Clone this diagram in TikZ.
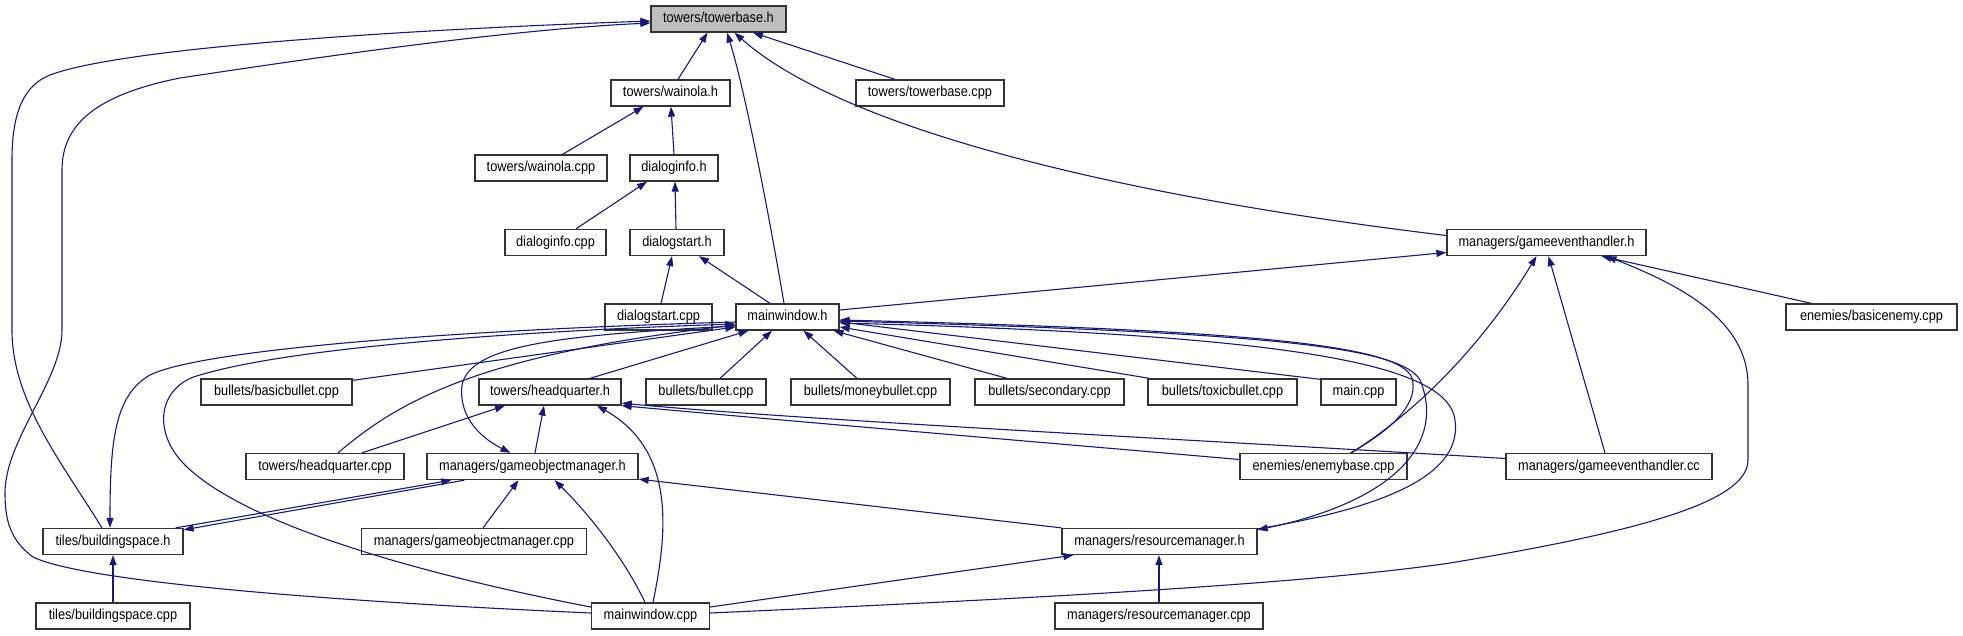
\documentclass[tikz,border=0pt]{standalone}
\usepackage{fontspec}
\setmainfont{Liberation Sans}[FakeStretch=0.88]
\usetikzlibrary{arrows.meta}
\definecolor{edgeblue}{HTML}{191970}
\definecolor{rootgray}{HTML}{BFBFBF}

\begin{document}
\begin{tikzpicture}[x=1pt, y=-1pt]
        \tikzset{
            file/.style={draw=black!80, line width=1.3pt, fill=white, rectangle, minimum height=26pt, inner sep=0pt, text height=10.5pt, text depth=3pt, font=\fontsize{14.5}{17}\selectfont},
            root/.style={file, fill=rootgray},
            inc/.style={draw=edgeblue, line width=1.1pt, -{Triangle[length=10pt, width=7pt]}}
        }
        \useasboundingbox (0,0) rectangle (1963,635);

        % Root
        \node [root, minimum width=135pt] (towerbase) at (718.5, 19) {towers/towerbase.h};

        % Towers and dialogs
        \node [file, minimum width=119pt] (wainola) at (670.5, 93) {towers/wainola.h};
        \node [file, minimum width=148pt] (towerbasecpp) at (930, 93) {towers/towerbase.cpp};
        \node [file, minimum width=132pt] (wainolacpp) at (541, 168) {towers/wainola.cpp};
        \node [file, minimum width=88pt] (dlginfo) at (674, 168) {dialoginfo.h};
        \node [file, minimum width=101pt] (dlginfocpp) at (555.5, 242.5) {dialoginfo.cpp};
        \node [file, minimum width=94pt] (dlgstart) at (677, 242.5) {dialogstart.h};
        \node [file, minimum width=199pt] (geh) at (1546.5, 242.5) {managers/gameeventhandler.h};
        \node [file, minimum width=107pt] (dlgstartcpp) at (658.5, 317) {dialogstart.cpp};
        \node [file, minimum width=103pt] (mainwin) at (787.5, 317) {mainwindow.h};
        \node [file, minimum width=171pt] (basicenemy) at (1871.5, 317) {enemies/basicenemy.cpp};

        % Bullets row
        \node [file, minimum width=151pt] (basicbullet) at (276.5, 392) {bullets/basicbullet.cpp};
        \node [file, minimum width=142pt] (hq) at (550, 392) {towers/headquarter.h};
        \node [file, minimum width=120pt] (bullet) at (706, 392) {bullets/bullet.cpp};
        \node [file, minimum width=159pt] (moneybullet) at (870.5, 392) {bullets/moneybullet.cpp};
        \node [file, minimum width=149pt] (secondary) at (1049.5, 392) {bullets/secondary.cpp};
        \node [file, minimum width=149pt] (toxic) at (1222.5, 392) {bullets/toxicbullet.cpp};
        \node [file, minimum width=75pt] (maincpp) at (1358.5, 392) {main.cpp};

        % Managers
        \node [file, minimum width=158pt] (hqcpp) at (325, 466.5) {towers/headquarter.cpp};
        \node [file, minimum width=211pt] (gom) at (532.5, 466.5) {managers/gameobjectmanager.h};
        \node [file, minimum width=167pt] (enemybase) at (1323.5, 466.5) {enemies/enemybase.cpp};
        \node [file, minimum width=206pt] (gehcc) at (1609, 466.5) {managers/gameeventhandler.cc};
        \node [file, minimum width=140pt] (bspace) at (113, 541.5) {tiles/buildingspace.h};
        \node [file, minimum width=225pt] (gomcpp) at (474, 541.5) {managers/gameobjectmanager.cpp};
        \node [file, minimum width=195pt] (resmgr) at (1159.5, 541.5) {managers/resourcemanager.h};
        \node [file, minimum width=154pt] (bspacecpp) at (113, 616) {tiles/buildingspace.cpp};
        \node [file, minimum width=118pt] (mainwincpp) at (650.5, 616) {mainwindow.cpp};
        \node [file, minimum width=208pt] (resmgrcpp) at (1159, 616) {managers/resourcemanager.cpp};

        % Into towerbase.h
        \draw [inc] ([xshift=7.5pt]wainola.north) -- ([xshift=-11pt]towerbase.south);
        \draw [inc] ([xshift=-35pt]towerbasecpp.north) -- ([xshift=34.5pt]towerbase.south);
        \draw [inc] ([xshift=-3.5pt]mainwin.north) .. controls (770,220) and (745,90) .. ([xshift=8.5pt]towerbase.south);
        \draw [inc] ([yshift=7pt]geh.west) .. controls (1150,200) and (850,135) .. ([xshift=16pt]towerbase.south);
        \draw [inc] ([xshift=-11pt]bspace.north) .. controls (60,460) and (12,400) .. (12,330) -- (12,160)
            .. controls (12,110) and (25,85) .. (50,75) .. controls (130,45) and (450,28) .. ([yshift=-2pt]towerbase.west);
        \draw [inc] ([yshift=3pt]mainwincpp.west) .. controls (300,600) and (80,580) .. (33,557)
            .. controls (10,540) and (5,520) .. (5,493) .. controls (5,440) and (62,380) .. (62,330) -- (62,170)
            .. controls (62,125) and (95,95) .. (180,78) .. controls (300,60) and (500,30) .. ([yshift=-4pt]towerbase.west);

        % Towers and dialogs chain
        \draw [inc] ([xshift=21.5pt]wainolacpp.north) -- ([xshift=-27pt]wainola.south);
        \draw [inc] (dlginfo.north) -- ([xshift=0.5pt]wainola.south);
        \draw [inc] ([xshift=20.5pt]dlginfocpp.north) -- ([xshift=-27pt]dlginfo.south);
        \draw [inc] ([xshift=-1pt]dlgstart.north) -- ([xshift=1pt]dlginfo.south);
        \draw [inc] ([xshift=2.5pt]dlgstartcpp.north) -- ([xshift=-5pt]dlgstart.south);
        \draw [inc] ([xshift=-17.5pt]mainwin.north) -- ([xshift=22pt]dlgstart.south);

        % Into gameeventhandler.h
        \draw [inc] ([yshift=7pt]mainwin.east) -- ([yshift=-10pt]geh.west);
        \draw [inc] ([xshift=28pt]enemybase.north) .. controls (1450,390) and (1510,300) .. ([xshift=-10pt]geh.south);
        \draw [inc] ([xshift=-4pt]gehcc.north) -- ([xshift=2pt]geh.south);
        \draw [inc] ([xshift=-60pt]basicenemy.north) -- ([xshift=55pt]geh.south);
        \draw [inc] ([yshift=3pt]mainwincpp.east) .. controls (1000,600) and (1300,585) .. (1450,563)
            .. controls (1650,530) and (1748,500) .. (1748,460) -- (1748,385)
            .. controls (1748,320) and (1680,285) .. ([xshift=60pt]geh.south);

        % Into mainwindow.h
        \draw [inc] ([xshift=14pt]bullet.north) -- ([xshift=-15.5pt]mainwin.south);
        \draw [inc] ([xshift=-13.5pt]moneybullet.north) -- ([xshift=16pt]mainwin.south);
        \draw [inc] ([xshift=-42.5pt]secondary.north) -- ([xshift=46pt]mainwin.south);
        \draw [inc] ([xshift=2pt]toxic.north west) -- ([yshift=-10pt]mainwin.east);
        \draw [inc] ([yshift=-1pt]maincpp.north west) -- ([yshift=-5pt]mainwin.east);
        \draw [inc] ([yshift=-2pt]basicbullet.north east) -- ([yshift=-10pt]mainwin.west);
        \draw [inc] ([xshift=40pt]hq.north) -- ([xshift=-39pt]mainwin.south);
        \draw [inc] ([xshift=13pt]hqcpp.north) .. controls (400,400) and (480,355) .. ([yshift=-8pt]mainwin.west);
        \draw [inc] ([yshift=9pt]mainwincpp.west) .. controls (450,580) and (250,530) .. (185,465)
            .. controls (150,430) and (160,385) .. (200,375) .. controls (300,345) and (550,330) .. ([yshift=-7pt]mainwin.west);
        \draw [inc] ([xshift=27pt]enemybase.north) .. controls (1400,425) and (1418,400) .. (1412,378)
            .. controls (1400,345) and (1250,330) .. ([yshift=-3pt]mainwin.east);
        \draw [inc] ([yshift=-1pt]resmgr.north east) .. controls (1400,505) and (1462,470) .. (1455,420)
            .. controls (1448,365) and (1300,335) .. ([yshift=-6pt]mainwin.east);

        % Out of mainwindow.h
        \draw [inc] ([yshift=-9pt]mainwin.west) .. controls (560,335) and (470,345) .. (462,385)
            .. controls (458,420) and (485,440) .. ([xshift=-22pt]gom.north);
        \draw [inc] ([yshift=-5pt]mainwin.west) .. controls (450,330) and (200,350) .. (150,375)
            .. controls (115,395) and (110,440) .. ([xshift=-3pt]bspace.north);
        \draw [inc] ([yshift=-4pt]mainwin.east) .. controls (1250,332) and (1400,345) .. (1420,380)
            .. controls (1445,440) and (1400,500) .. ([yshift=-2pt]resmgr.north east);

        % Into headquarter.h
        \draw [inc] ([xshift=37pt]hqcpp.north) -- ([xshift=-45pt]hq.south);
        \draw [inc] ([xshift=2.5pt]gom.north) -- ([xshift=-6pt]hq.south);
        \draw [inc] ([xshift=2.5pt]mainwincpp.north) .. controls (668,530) and (675,450) .. ([xshift=47pt]hq.south);
        \draw [inc] ([yshift=7pt]enemybase.west) .. controls (1050,443) and (800,422) .. (hq.south east);
        \draw [inc] ([yshift=8pt]gehcc.west) .. controls (1200,440) and (800,420) .. ([yshift=2.5pt]hq.south east);

        % Into gameobjectmanager.h
        \draw [inc] ([xshift=-8pt]bspace.north east) -- ([xshift=25pt]gom.south west);
        \draw [inc] ([xshift=38pt]gom.south west) -- ([yshift=-2pt]bspace.north east);
        \draw [inc] ([xshift=9pt]gomcpp.north) -- ([xshift=-14pt]gom.south);
        \draw [inc] ([xshift=-5.5pt]mainwincpp.north) .. controls (625,560) and (590,515) .. ([xshift=22pt]gom.south);
        \draw [inc] (resmgr.north west) -- ([yshift=1pt]gom.south east);

        % Into resourcemanager.h and buildingspace.h
        \draw [inc] ([yshift=9pt]mainwincpp.east) -- ([xshift=12pt]resmgr.south west);
        \draw [inc] (resmgrcpp.north) -- ([xshift=-0.5pt]resmgr.south);
        \draw [inc] (bspacecpp.north) -- (bspace.south);

    \end{tikzpicture}
\end{document}
